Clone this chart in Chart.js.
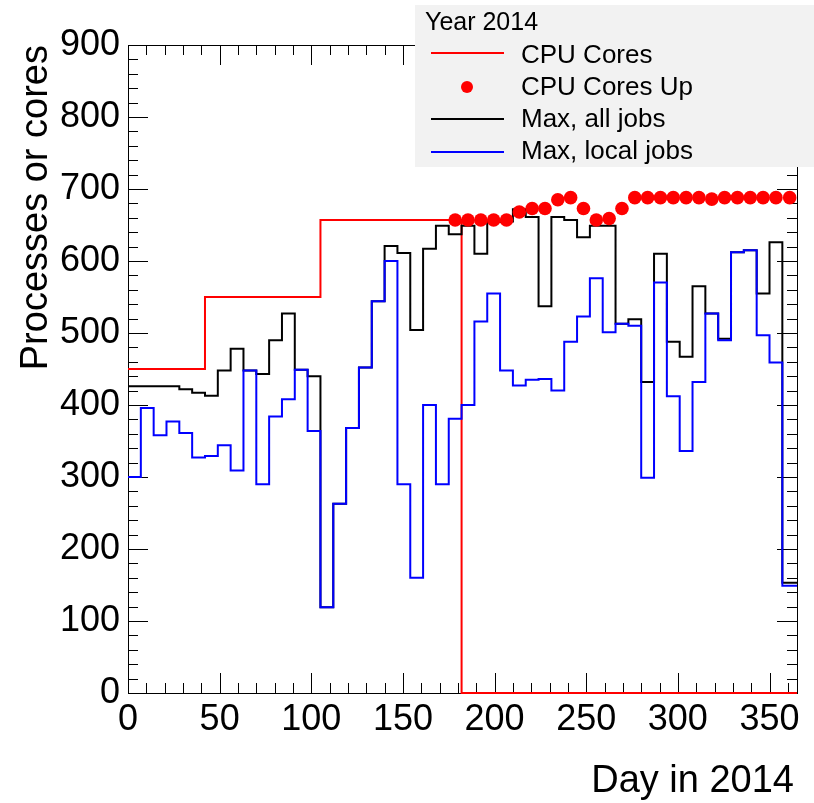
<!DOCTYPE html>
<html>
<head>
<meta charset="utf-8">
<script src="https://cdn.jsdelivr.net/npm/chart.js@4.4.1/dist/chart.umd.min.js"></script>
<style>
  html, body { margin: 0; padding: 0; background: #fff; }
  #wrap { width: 814px; height: 803px; }
</style>
</head>
<body>
<div id="wrap"><canvas id="myChart" width="814" height="803"></canvas></div>
<script>
// weekly bins, day of year
const binEdges = [0, 7, 14, 21, 28, 35, 42, 49, 56, 63, 70, 77, 84, 91, 98, 105, 112, 119, 126,
  133, 140, 147, 154, 161, 168, 175, 182, 189, 196, 203, 210, 217, 224, 231, 238, 245, 252,
  259, 266, 273, 280, 287, 294, 301, 308, 315, 322, 329, 336, 343, 350, 357, 365];

const cpuCores = [450, 450, 450, 450, 450, 450, 550, 550, 550, 550, 550, 550, 550, 550, 550,
  657, 657, 657, 657, 657, 657, 657, 657, 657, 657, 657, 0, 0, 0, 0, 0, 0, 0, 0, 0, 0, 0, 0,
  0, 0, 0, 0, 0, 0, 0, 0, 0, 0, 0, 0, 0, 0];

const cpuCoresUp = [null, null, null, null, null, null, null, null, null, null, null, null, null,
  null, null, null, null, null, null, null, null, null, null, null, null, 657, 657, 657, 657,
  657, 668, 673, 673, 685, 688, 673, 657, 659, 673, 688, 688, 688, 688, 688, 688, 686, 688,
  688, 688, 688, 688, 688];

const maxAllJobs = [426, 426, 426, 426, 422, 417, 413, 448, 478, 448, 443, 490, 527, 449, 440,
  119, 263, 368, 452, 544, 621, 611, 504, 617, 649, 637, 649, 610, 654, 655, 672, 661, 537,
  661, 657, 633, 649, 649, 513, 519, 432, 610, 488, 467, 565, 527, 492, 612, 615, 555, 626, 153];

const maxLocalJobs = [300, 396, 358, 377, 361, 327, 329, 344, 309, 448, 290, 384, 408, 449, 364,
  119, 263, 368, 452, 544, 600, 290, 160, 400, 290, 381, 400, 516, 555, 448, 427, 435, 436,
  420, 488, 523, 576, 501, 513, 510, 299, 570, 412, 336, 432, 527, 490, 612, 615, 497, 459, 149];

const xTicks = [0, 50, 100, 150, 200, 250, 300, 350];
const yTicks = [0, 100, 200, 300, 400, 500, 600, 700, 800, 900];

const FONT = "'Liberation Sans', Arial, sans-serif";

const stepPoints = (vals) => {
  const pts = vals.map((v, i) => ({ x: binEdges[i], y: v }));
  pts.push({ x: binEdges[binEdges.length - 1], y: vals[vals.length - 1] });
  return pts;
};
const centerPoints = (vals) => vals.map((v, i) => ({ x: (binEdges[i] + binEdges[i + 1]) / 2, y: v }));

const lineSet = (label, color, vals) => ({
  label: label,
  data: stepPoints(vals),
  borderColor: color,
  backgroundColor: color,
  borderWidth: 2,
  stepped: 'before',
  pointRadius: 0,
  fill: false,
  clip: 4,
});

const data = {
  datasets: [
    {
      label: 'CPU Cores Up',
      data: centerPoints(cpuCoresUp),
      showLine: false,
      pointRadius: 6.8,
      pointStyle: 'circle',
      pointBackgroundColor: '#ff0000',
      pointBorderColor: '#ff0000',
      pointBorderWidth: 0,
      borderColor: '#ff0000',
      backgroundColor: '#ff0000',
      clip: 8,
    },
    lineSet('Max, local jobs', '#0000ff', maxLocalJobs),
    lineSet('Max, all jobs', '#000000', maxAllJobs),
    lineSet('CPU Cores', '#ff0000', cpuCores),
  ]
};

// ROOT style frame with inward ticks on all four sides
const frame = {
  id: 'frame',
  beforeDatasetsDraw(chart) {
    const { ctx, chartArea: a, scales } = chart;
    const xs = scales.x, ys = scales.y;
    ctx.save();
    ctx.strokeStyle = '#000';
    ctx.lineWidth = 1;
    ctx.beginPath();
    for (let d = 0; d <= 360; d += 10) {
      const px = Math.round(xs.getPixelForValue(d)) + 0.5;
      const len = d % 50 === 0 ? 20 : 10;
      ctx.moveTo(px, a.bottom); ctx.lineTo(px, a.bottom - len);
      ctx.moveTo(px, a.top); ctx.lineTo(px, a.top + len);
    }
    for (let v = 0; v <= 900; v += 20) {
      const py = Math.round(ys.getPixelForValue(v)) + 0.5;
      const len = v % 100 === 0 ? 20 : 10;
      ctx.moveTo(a.left, py); ctx.lineTo(a.left + len, py);
      ctx.moveTo(a.right, py); ctx.lineTo(a.right - len, py);
    }
    ctx.stroke();
    ctx.strokeRect(Math.round(a.left) + 0.5, Math.round(a.top) + 0.5,
      Math.round(a.right - a.left), Math.round(a.bottom - a.top));
    ctx.restore();
  },
  afterDraw(chart) {
    const { ctx } = chart;
    ctx.save();
    ctx.fillStyle = '#000';
    ctx.font = '38px ' + FONT;
    ctx.textAlign = 'right';
    ctx.textBaseline = 'alphabetic';
    ctx.fillText('Day in 2014', 794, 792);
    ctx.translate(47, 45);
    ctx.rotate(-Math.PI / 2);
    ctx.fillText('Processes or cores', 0, 0);
    ctx.restore();

    // legend box
    ctx.save();
    ctx.fillStyle = '#f2f2f2';
    ctx.fillRect(415, 5, 399, 162);
    ctx.fillStyle = '#000';
    ctx.font = '25px ' + FONT;
    ctx.textAlign = 'left';
    ctx.textBaseline = 'alphabetic';
    ctx.fillText('Year 2014', 425, 30);
    const order = ['CPU Cores', 'CPU Cores Up', 'Max, all jobs', 'Max, local jobs'];
    const rows = [53, 87, 119, 152];
    const base = [63, 95, 127, 159];
    ctx.font = '26px ' + FONT;
    order.forEach((name, i) => {
      const ds = chart.data.datasets.find(d => d.label === name);
      if (ds.showLine === false) {
        ctx.fillStyle = ds.pointBackgroundColor;
        ctx.beginPath();
        ctx.arc(467, rows[i], 6, 0, Math.PI * 2);
        ctx.fill();
      } else {
        ctx.strokeStyle = ds.borderColor;
        ctx.lineWidth = 2;
        ctx.beginPath();
        ctx.moveTo(431, rows[i]); ctx.lineTo(504, rows[i]);
        ctx.stroke();
      }
      ctx.fillStyle = '#000';
      ctx.fillText(name, 521, base[i]);
    });
    ctx.restore();
  }
};

const config = {
  type: 'line',
  data: data,
  options: {
    responsive: false,
    animation: false,
    layout: { padding: { top: 45, right: 17, left: 0, bottom: 0 } },
    scales: {
      x: {
        type: 'linear',
        min: 0,
        max: 365,
        afterFit: (s) => { s.height = 110; },
        afterBuildTicks: (s) => { s.ticks = xTicks.map(v => ({ value: v })); },
        ticks: {
          autoSkip: false,
          maxRotation: 0,
          padding: 5,
          color: '#000',
          font: { family: FONT, size: 36 },
        },
        grid: { display: false, drawTicks: false },
        border: { display: false },
      },
      y: {
        type: 'linear',
        min: 0,
        max: 900,
        afterFit: (s) => { s.width = 128; },
        afterBuildTicks: (s) => { s.ticks = yTicks.map(v => ({ value: v })); },
        ticks: {
          padding: 8,
          color: '#000',
          font: { family: FONT, size: 36 },
        },
        grid: { display: false, drawTicks: false },
        border: { display: false },
      }
    },
    plugins: {
      legend: { display: false },
      tooltip: { enabled: false },
    }
  },
  plugins: [frame]
};

const myChart = new Chart(document.getElementById('myChart'), config);
</script>
</body>
</html>
